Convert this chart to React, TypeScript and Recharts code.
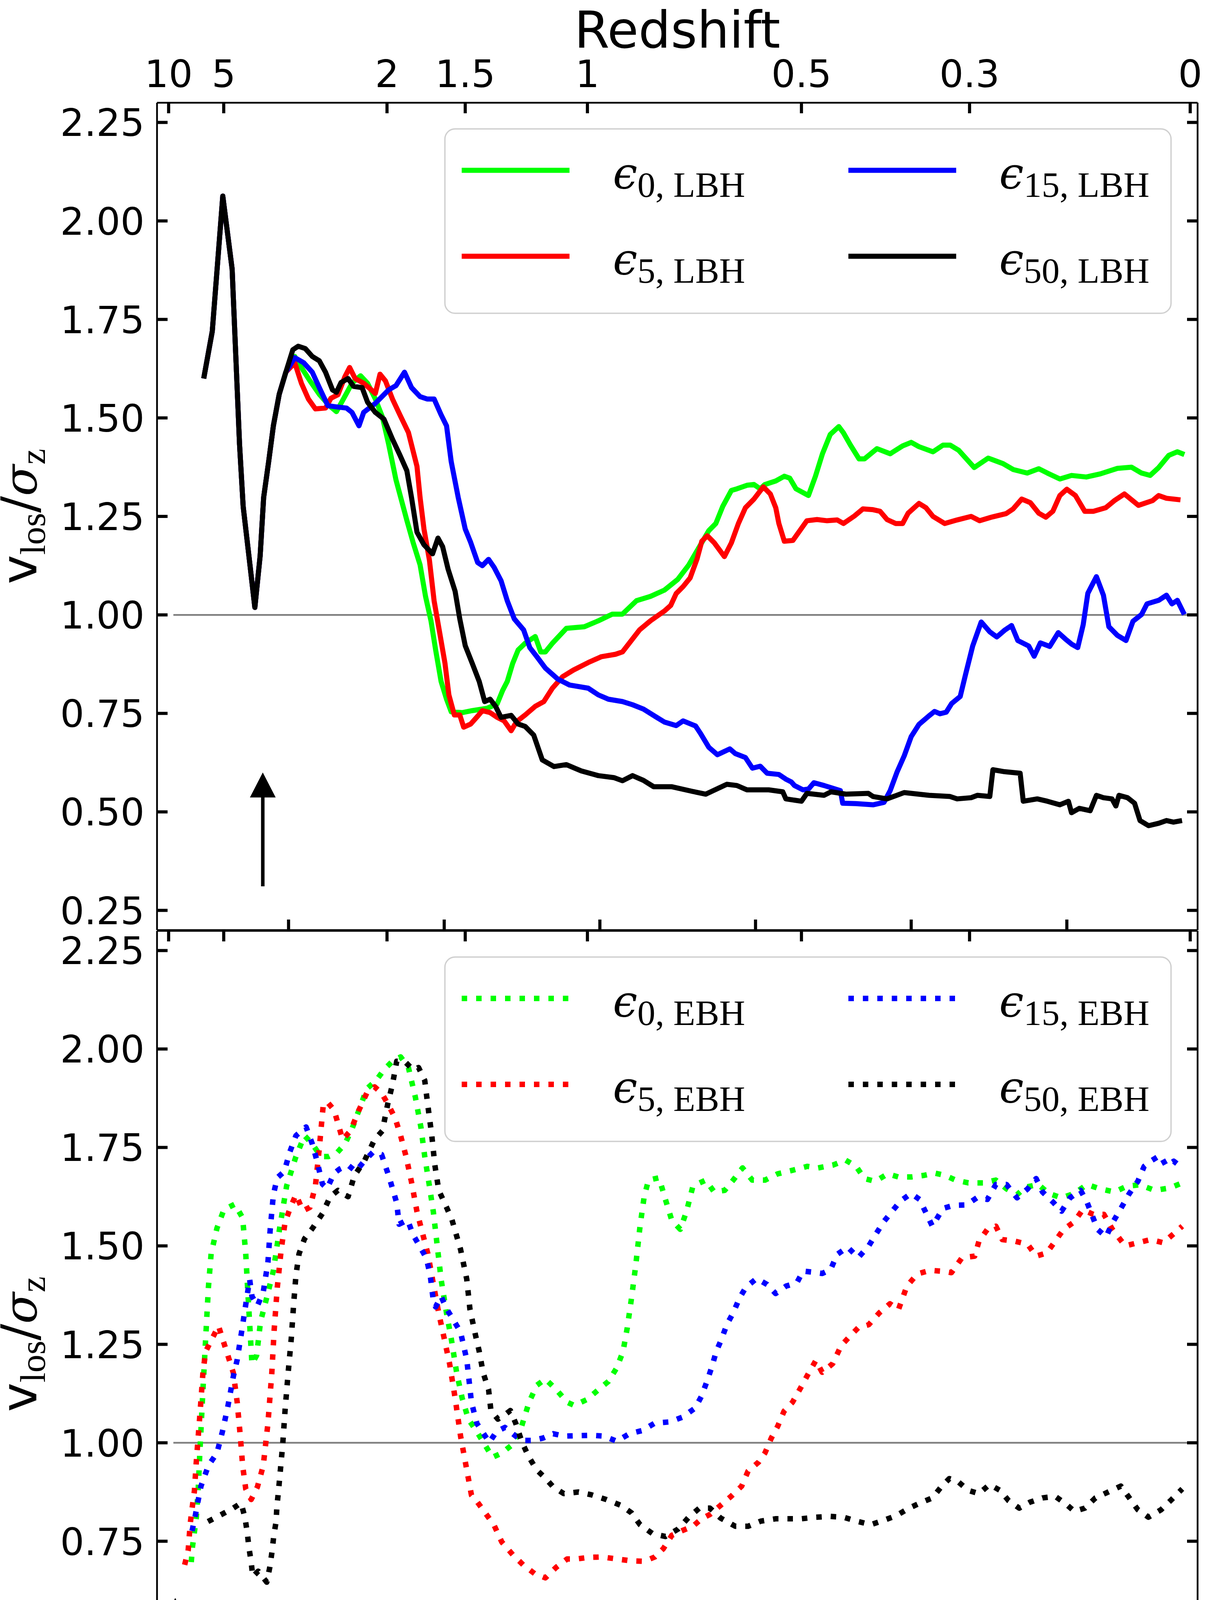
import React from 'react';
import { LineChart, Line, XAxis, YAxis, ReferenceLine, ReferenceDot, Legend } from 'recharts';

// ---------------- data ----------------
const timeTicks = [2, 4, 6, 8, 10, 12];
const yTicks = [0.25, 0.5, 0.75, 1.0, 1.25, 1.5, 1.75, 2.0, 2.25];
const redshiftLabels = ['10', '5', '2', '1.5', '1', '0.5', '0.3', '0'];
const redshiftTimes = [0.459, 1.167, 3.265, 4.27, 5.84, 8.59, 10.75, 13.585];
const xDomain = [0.31, 13.68];
const yDomain = [0.2, 2.3];

// shared early evolution (top panel, before BH seeding)
const earlyLBH = [[0.91,1.60],[1.02,1.72],[1.155,2.063],[1.275,1.878],[1.37,1.434],[1.417,1.275],[1.497,1.139],[1.567,1.019],[1.635,1.15],[1.68,1.298],[1.745,1.39],[1.805,1.48],[1.88,1.56],[1.965,1.616]];

const lbh0 = [[2.08,1.656],[2.165,1.628],[2.275,1.594],[2.395,1.56],[2.525,1.531],[2.615,1.516],[2.705,1.548],[2.815,1.588],[2.925,1.607],[3.015,1.588],[3.115,1.548],[3.205,1.503],[3.285,1.434],[3.38,1.343],[3.52,1.24],[3.60,1.184],[3.69,1.127],[3.76,1.047],[3.83,0.985],[3.89,0.911],[3.96,0.831],[4.03,0.786],[4.09,0.754],[4.23,0.752],[4.36,0.757],[4.55,0.763],[4.68,0.774],[4.75,0.808],[4.81,0.831],[4.88,0.877],[4.95,0.911],[5.04,0.928],[5.13,0.94],[5.17,0.945],[5.24,0.906],[5.30,0.906],[5.39,0.928],[5.57,0.966],[5.80,0.97],[5.98,0.985],[6.16,1.002],[6.29,1.002],[6.47,1.036],[6.65,1.047],[6.83,1.063],[7.00,1.09],[7.14,1.126],[7.27,1.17],[7.40,1.214],[7.49,1.232],[7.58,1.276],[7.69,1.316],[7.76,1.32],[7.89,1.329],[7.98,1.331],[8.06,1.32],[8.12,1.331],[8.26,1.34],[8.37,1.352],[8.44,1.347],[8.52,1.32],[8.68,1.303],[8.77,1.352],[8.86,1.409],[8.96,1.458],[9.07,1.478],[9.13,1.462],[9.22,1.431],[9.33,1.396],[9.40,1.396],[9.56,1.422],[9.73,1.409],[9.89,1.429],[10.00,1.438],[10.10,1.427],[10.28,1.414],[10.41,1.431],[10.50,1.431],[10.61,1.418],[10.81,1.374],[10.99,1.398],[11.18,1.384],[11.31,1.369],[11.49,1.36],[11.64,1.371],[11.75,1.36],[11.91,1.345],[12.06,1.354],[12.25,1.35],[12.43,1.358],[12.65,1.372],[12.83,1.375],[12.96,1.36],[13.07,1.354],[13.18,1.374],[13.31,1.405],[13.42,1.414],[13.51,1.407]];

const lbh5 = [[2.08,1.64],[2.165,1.588],[2.255,1.548],[2.345,1.523],[2.475,1.525],[2.545,1.55],[2.635,1.559],[2.725,1.605],[2.785,1.628],[2.855,1.6],[2.965,1.588],[3.065,1.571],[3.115,1.562],[3.175,1.611],[3.245,1.594],[3.335,1.548],[3.43,1.508],[3.54,1.463],[3.65,1.377],[3.69,1.298],[3.74,1.218],[3.81,1.139],[3.87,1.036],[3.94,0.957],[4.01,0.877],[4.06,0.797],[4.13,0.746],[4.20,0.746],[4.25,0.715],[4.34,0.723],[4.43,0.743],[4.49,0.757],[4.59,0.752],[4.68,0.74],[4.77,0.731],[4.86,0.706],[4.93,0.729],[5.04,0.746],[5.17,0.768],[5.28,0.78],[5.39,0.814],[5.52,0.843],[5.66,0.86],[5.85,0.879],[6.02,0.894],[6.20,0.9],[6.29,0.906],[6.40,0.934],[6.51,0.962],[6.65,0.985],[6.83,1.01],[6.91,1.024],[6.98,1.054],[7.07,1.072],[7.16,1.094],[7.25,1.143],[7.31,1.187],[7.38,1.201],[7.47,1.183],[7.60,1.148],[7.69,1.183],[7.78,1.232],[7.87,1.272],[7.98,1.294],[8.10,1.325],[8.19,1.307],[8.26,1.272],[8.30,1.232],[8.37,1.187],[8.48,1.189],[8.57,1.214],[8.66,1.239],[8.79,1.242],[8.92,1.239],[9.05,1.241],[9.13,1.232],[9.27,1.251],[9.38,1.269],[9.51,1.267],[9.60,1.263],[9.69,1.242],[9.80,1.232],[9.89,1.232],[9.96,1.258],[10.10,1.283],[10.19,1.272],[10.28,1.25],[10.43,1.232],[10.59,1.241],[10.77,1.25],[10.88,1.239],[11.03,1.248],[11.22,1.257],[11.31,1.269],[11.42,1.294],[11.53,1.285],[11.64,1.258],[11.73,1.248],[11.82,1.263],[11.91,1.303],[12.00,1.319],[12.11,1.303],[12.23,1.263],[12.34,1.263],[12.50,1.272],[12.61,1.29],[12.74,1.307],[12.92,1.278],[13.10,1.29],[13.18,1.303],[13.28,1.296],[13.46,1.292]];

const lbh15 = [[2.08,1.653],[2.195,1.64],[2.305,1.616],[2.395,1.577],[2.505,1.531],[2.615,1.528],[2.745,1.525],[2.815,1.514],[2.905,1.48],[2.965,1.514],[3.115,1.537],[3.285,1.571],[3.38,1.582],[3.49,1.616],[3.58,1.577],[3.69,1.554],[3.78,1.548],[3.87,1.548],[3.96,1.508],[4.03,1.48],[4.09,1.389],[4.18,1.298],[4.27,1.218],[4.34,1.184],[4.43,1.133],[4.49,1.125],[4.57,1.141],[4.64,1.121],[4.73,1.087],[4.81,1.036],[4.90,0.99],[5.02,0.962],[5.10,0.917],[5.19,0.894],[5.30,0.865],[5.46,0.837],[5.61,0.822],[5.85,0.814],[5.98,0.797],[6.11,0.786],[6.29,0.78],[6.42,0.772],[6.56,0.761],[6.73,0.74],[6.83,0.728],[6.98,0.719],[7.07,0.731],[7.23,0.718],[7.29,0.70],[7.40,0.664],[7.51,0.645],[7.67,0.66],[7.74,0.648],[7.87,0.638],[7.96,0.611],[8.06,0.616],[8.15,0.598],[8.30,0.595],[8.39,0.583],[8.46,0.576],[8.50,0.567],[8.61,0.556],[8.68,0.558],[8.75,0.574],[8.88,0.567],[9.09,0.554],[9.12,0.522],[9.29,0.521],[9.51,0.518],[9.65,0.524],[9.73,0.554],[9.82,0.602],[9.91,0.642],[10.00,0.691],[10.10,0.722],[10.23,0.744],[10.30,0.755],[10.37,0.749],[10.45,0.753],[10.52,0.775],[10.63,0.793],[10.70,0.85],[10.79,0.921],[10.90,0.982],[11.01,0.957],[11.10,0.944],[11.20,0.961],[11.29,0.973],[11.37,0.935],[11.51,0.921],[11.58,0.895],[11.66,0.929],[11.78,0.92],[11.89,0.955],[11.98,0.939],[12.06,0.926],[12.14,0.917],[12.21,0.975],[12.27,1.055],[12.38,1.097],[12.47,1.05],[12.54,0.97],[12.65,0.948],[12.76,0.935],[12.85,0.984],[12.96,1.001],[13.03,1.028],[13.18,1.037],[13.28,1.05],[13.35,1.028],[13.42,1.037],[13.51,1.001]];

const lbh50 = [[2.055,1.673],[2.125,1.682],[2.215,1.676],[2.305,1.656],[2.395,1.645],[2.475,1.616],[2.565,1.571],[2.615,1.565],[2.675,1.59],[2.765,1.60],[2.835,1.58],[2.945,1.577],[3.015,1.54],[3.115,1.514],[3.225,1.497],[3.335,1.446],[3.43,1.406],[3.52,1.366],[3.58,1.298],[3.65,1.21],[3.74,1.178],[3.85,1.155],[3.92,1.195],[3.98,1.173],[4.05,1.116],[4.14,1.06],[4.20,0.99],[4.27,0.922],[4.36,0.877],[4.45,0.831],[4.52,0.78],[4.59,0.786],[4.66,0.768],[4.73,0.74],[4.86,0.745],[4.95,0.723],[5.04,0.717],[5.15,0.695],[5.26,0.632],[5.41,0.615],[5.57,0.62],[5.76,0.604],[5.98,0.592],[6.18,0.587],[6.29,0.579],[6.42,0.592],[6.56,0.58],[6.69,0.564],[6.92,0.564],[7.19,0.552],[7.36,0.545],[7.63,0.57],[7.76,0.567],[7.89,0.556],[8.17,0.556],[8.35,0.551],[8.39,0.533],[8.59,0.527],[8.66,0.547],[8.88,0.542],[8.97,0.551],[9.16,0.545],[9.45,0.547],[9.51,0.539],[9.69,0.533],[9.91,0.549],[10.23,0.542],[10.50,0.539],[10.59,0.533],[10.77,0.536],[10.85,0.542],[11.01,0.539],[11.05,0.607],[11.20,0.602],[11.40,0.598],[11.44,0.527],[11.62,0.533],[11.75,0.527],[11.91,0.518],[12.02,0.527],[12.06,0.498],[12.16,0.509],[12.30,0.503],[12.38,0.542],[12.47,0.536],[12.58,0.533],[12.63,0.515],[12.67,0.542],[12.78,0.536],[12.87,0.522],[12.94,0.478],[13.05,0.465],[13.18,0.471],[13.28,0.478],[13.37,0.474],[13.48,0.478]];

const ebh0 = [[0.75,0.697],[0.765,0.735],[0.79,0.773],[0.815,0.81],[0.84,0.886],[0.86,0.974],[0.90,1.135],[0.935,1.265],[0.97,1.394],[1.005,1.48],[1.08,1.545],[1.17,1.592],[1.31,1.606],[1.41,1.571],[1.45,1.48],[1.48,1.372],[1.53,1.20],[1.59,1.222],[1.64,1.308],[1.71,1.361],[1.805,1.437],[1.885,1.544],[1.975,1.652],[2.095,1.727],[2.205,1.78],[2.305,1.759],[2.415,1.727],[2.515,1.727],[2.625,1.737],[2.725,1.759],[2.815,1.797],[2.905,1.845],[3.005,1.899],[3.125,1.92],[3.225,1.947],[3.335,1.969],[3.44,1.98],[3.54,1.953],[3.63,1.877],[3.70,1.802],[3.75,1.727],[3.81,1.652],[3.86,1.587],[3.91,1.501],[3.96,1.415],[4.03,1.329],[4.09,1.265],[4.16,1.178],[4.23,1.114],[4.31,1.06],[4.42,1.028],[4.52,0.996],[4.62,0.963],[4.74,0.974],[4.88,0.996],[4.99,1.039],[5.09,1.103],[5.19,1.146],[5.30,1.162],[5.44,1.135],[5.58,1.103],[5.67,1.095],[5.835,1.11],[5.97,1.133],[6.11,1.156],[6.216,1.19],[6.298,1.232],[6.352,1.292],[6.407,1.368],[6.461,1.451],[6.516,1.55],[6.57,1.626],[6.625,1.667],[6.76,1.673],[6.842,1.618],[6.924,1.565],[7.033,1.542],[7.114,1.588],[7.196,1.652],[7.36,1.667],[7.468,1.637],[7.604,1.641],[7.713,1.667],[7.833,1.698],[7.958,1.667],[8.121,1.667],[8.285,1.683],[8.475,1.692],[8.666,1.702],[8.802,1.698],[8.992,1.705],[9.156,1.718],[9.292,1.702],[9.40,1.671],[9.537,1.664],[9.70,1.683],[9.836,1.675],[9.999,1.675],[10.163,1.679],[10.299,1.685],[10.435,1.679],[10.571,1.667],[10.735,1.66],[10.925,1.66],[11.088,1.667],[11.224,1.645],[11.36,1.63],[11.469,1.649],[11.633,1.656],[11.769,1.633],[11.932,1.622],[12.095,1.633],[12.259,1.656],[12.422,1.645],[12.612,1.637],[12.776,1.652],[12.939,1.655],[13.13,1.641],[13.32,1.647],[13.483,1.66]];

const ebh5 = [[0.665,0.69],[0.71,0.726],[0.725,0.765],[0.74,0.80],[0.765,0.84],[0.79,0.877],[0.815,0.953],[0.865,1.082],[0.90,1.178],[0.935,1.232],[1.005,1.259],[1.10,1.297],[1.15,1.265],[1.22,1.222],[1.29,1.178],[1.34,1.103],[1.38,1.017],[1.41,0.942],[1.45,0.883],[1.52,0.856],[1.60,0.888],[1.675,0.942],[1.735,1.049],[1.785,1.178],[1.815,1.286],[1.855,1.394],[1.905,1.49],[1.955,1.56],[2.025,1.598],[2.095,1.63],[2.185,1.589],[2.275,1.598],[2.345,1.652],[2.395,1.748],[2.445,1.856],[2.495,1.866],[2.585,1.845],[2.695,1.77],[2.795,1.792],[2.905,1.845],[3.005,1.888],[3.105,1.904],[3.195,1.888],[3.275,1.861],[3.37,1.824],[3.44,1.78],[3.51,1.727],[3.58,1.662],[3.65,1.587],[3.72,1.533],[3.79,1.48],[3.86,1.404],[3.93,1.329],[4.00,1.265],[4.07,1.2],[4.14,1.114],[4.21,1.017],[4.28,0.942],[4.35,0.867],[4.42,0.851],[4.52,0.824],[4.64,0.791],[4.74,0.748],[4.88,0.716],[5.02,0.689],[5.16,0.668],[5.30,0.657],[5.44,0.684],[5.58,0.705],[5.699,0.705],[5.862,0.709],[6.026,0.71],[6.216,0.705],[6.407,0.70],[6.57,0.699],[6.706,0.71],[6.815,0.731],[6.924,0.765],[7.06,0.777],[7.196,0.788],[7.305,0.807],[7.414,0.818],[7.55,0.841],[7.686,0.864],[7.822,0.89],[7.904,0.928],[8.04,0.951],[8.121,0.974],[8.203,1.012],[8.285,1.042],[8.366,1.08],[8.475,1.103],[8.584,1.141],[8.666,1.171],[8.775,1.209],[8.856,1.179],[8.992,1.201],[9.101,1.247],[9.21,1.27],[9.319,1.292],[9.455,1.30],[9.591,1.33],[9.727,1.353],[9.836,1.338],[9.945,1.398],[10.081,1.429],[10.245,1.438],[10.435,1.435],[10.517,1.432],[10.653,1.47],[10.816,1.474],[10.871,1.512],[10.979,1.542],[11.088,1.55],[11.17,1.516],[11.333,1.512],[11.497,1.504],[11.605,1.474],[11.741,1.482],[11.85,1.512],[11.959,1.542],[12.095,1.561],[12.204,1.592],[12.34,1.58],[12.476,1.58],[12.585,1.542],[12.749,1.50],[12.912,1.508],[13.075,1.516],[13.239,1.508],[13.374,1.531],[13.483,1.55]];

const ebh15 = [[0.76,0.776],[0.80,0.813],[0.835,0.85],[0.875,0.89],[0.97,0.942],[1.08,0.974],[1.15,1.028],[1.22,1.092],[1.29,1.168],[1.34,1.211],[1.40,1.286],[1.45,1.351],[1.50,1.415],[1.53,1.372],[1.60,1.348],[1.675,1.383],[1.735,1.458],[1.765,1.544],[1.805,1.63],[1.855,1.673],[1.945,1.689],[2.015,1.738],[2.095,1.78],[2.225,1.802],[2.305,1.759],[2.365,1.716],[2.435,1.657],[2.495,1.646],[2.585,1.684],[2.655,1.695],[2.765,1.705],[2.865,1.689],[2.975,1.716],[3.085,1.738],[3.195,1.732],[3.295,1.673],[3.39,1.609],[3.42,1.555],[3.53,1.566],[3.60,1.528],[3.68,1.501],[3.77,1.469],[3.82,1.426],[3.86,1.361],[3.89,1.345],[3.96,1.372],[4.03,1.34],[4.10,1.318],[4.21,1.281],[4.29,1.211],[4.35,1.103],[4.42,1.049],[4.49,1.028],[4.58,1.001],[4.67,1.028],[4.78,1.039],[4.88,1.023],[4.99,1.006],[5.13,1.006],[5.27,1.012],[5.40,1.023],[5.54,1.017],[5.699,1.018],[5.89,1.019],[6.053,1.017],[6.216,1.004],[6.38,1.023],[6.543,1.031],[6.706,1.05],[6.897,1.053],[7.06,1.065],[7.223,1.088],[7.305,1.118],[7.376,1.156],[7.441,1.194],[7.495,1.232],[7.561,1.262],[7.631,1.30],[7.713,1.33],[7.795,1.368],[7.877,1.395],[8.013,1.417],[8.149,1.402],[8.258,1.379],[8.394,1.398],[8.53,1.406],[8.611,1.436],[8.748,1.433],[8.856,1.43],[8.965,1.44],[9.047,1.478],[9.183,1.497],[9.319,1.47],[9.455,1.50],[9.537,1.527],[9.646,1.561],[9.755,1.588],[9.863,1.614],[9.999,1.633],[10.108,1.618],[10.19,1.584],[10.272,1.55],[10.408,1.595],[10.544,1.603],[10.707,1.604],[10.843,1.622],[10.979,1.618],[11.088,1.656],[11.224,1.656],[11.36,1.622],[11.497,1.645],[11.605,1.671],[11.687,1.637],[11.823,1.611],[11.932,1.588],[12.041,1.622],[12.177,1.641],[12.259,1.611],[12.395,1.542],[12.504,1.523],[12.585,1.558],[12.694,1.595],[12.803,1.633],[12.912,1.664],[12.994,1.702],[13.075,1.715],[13.20,1.73],[13.277,1.703],[13.374,1.715],[13.483,1.698]];

const ebh50 = [[0.965,0.80],[1.13,0.817],[1.29,0.834],[1.39,0.847],[1.44,0.81],[1.47,0.771],[1.49,0.735],[1.52,0.697],[1.54,0.66],[1.61,0.674],[1.72,0.646],[1.76,0.685],[1.79,0.727],[1.81,0.764],[1.84,0.80],[1.85,0.838],[1.87,0.876],[1.925,0.996],[1.955,1.082],[1.995,1.178],[2.035,1.265],[2.065,1.351],[2.095,1.426],[2.135,1.48],[2.205,1.518],[2.305,1.544],[2.435,1.582],[2.535,1.625],[2.635,1.641],[2.765,1.625],[2.845,1.678],[2.975,1.716],[3.105,1.77],[3.205,1.792],[3.275,1.861],[3.335,1.91],[3.39,1.969],[3.49,1.969],[3.60,1.947],[3.67,1.953],[3.75,1.92],[3.79,1.856],[3.84,1.781],[3.88,1.705],[3.93,1.641],[4.03,1.598],[4.10,1.566],[4.21,1.491],[4.29,1.415],[4.33,1.34],[4.40,1.275],[4.45,1.232],[4.50,1.178],[4.57,1.135],[4.60,1.082],[4.69,1.06],[4.78,1.071],[4.85,1.082],[4.92,1.049],[5.00,1.001],[5.09,0.963],[5.19,0.931],[5.30,0.91],[5.40,0.888],[5.536,0.871],[5.726,0.875],[5.89,0.868],[6.08,0.856],[6.27,0.841],[6.407,0.822],[6.516,0.792],[6.679,0.769],[6.842,0.762],[7.006,0.781],[7.142,0.811],[7.278,0.834],[7.414,0.834],[7.55,0.809],[7.74,0.788],[7.904,0.788],[8.067,0.801],[8.258,0.807],[8.421,0.807],[8.584,0.807],[8.775,0.811],[8.965,0.813],[9.129,0.811],[9.319,0.80],[9.482,0.792],[9.646,0.803],[9.809,0.815],[9.972,0.834],[10.136,0.849],[10.272,0.86],[10.381,0.887],[10.49,0.909],[10.598,0.902],[10.735,0.879],[10.871,0.871],[11.007,0.894],[11.143,0.879],[11.252,0.853],[11.388,0.834],[11.524,0.849],[11.687,0.86],[11.85,0.864],[11.986,0.845],[12.095,0.826],[12.231,0.834],[12.368,0.86],[12.531,0.875],[12.694,0.89],[12.803,0.86],[12.912,0.83],[13.048,0.811],[13.211,0.83],[13.347,0.856],[13.483,0.883]];

// marker arrows (time of BH seeding) and the unity reference
const arrowTop = { t: 1.669, from: 0.311, to: 0.60 };
const arrowBottom = { t: 0.544, from: 0.314, to: 0.606 };
const unityLine = { y: 1.0, from: 0.52, to: 13.68 };

// ---------------- helpers / styling ----------------
const toPts = (arr: number[][]) => arr.map(([t, v]) => ({ t, v }));

type Series = { n: string; color: string; data: { t: number; v: number }[] };
const lbhSeries: Series[] = [
  { n: '0', color: '#00ff00', data: toPts([...earlyLBH, ...lbh0]) },
  { n: '5', color: '#ff0000', data: toPts([...earlyLBH, ...lbh5]) },
  { n: '15', color: '#0000ff', data: toPts([...earlyLBH, ...lbh15]) },
  { n: '50', color: '#000000', data: toPts([...earlyLBH, ...lbh50]) },
];
const ebhSeries: Series[] = [
  { n: '0', color: '#00ff00', data: toPts(ebh0) },
  { n: '5', color: '#ff0000', data: toPts(ebh5) },
  { n: '15', color: '#0000ff', data: toPts(ebh15) },
  { n: '50', color: '#000000', data: toPts(ebh50) },
];

const SANS = "'DejaVu Sans', sans-serif";
const SERIF = "'Liberation Serif', 'DejaVu Serif', serif";
const TICK_LEN = 27;
const TICK_W = 8;
const SPINE = { stroke: '#000', strokeWidth: 4.5 };
const TICK_FS = 97;
const LABEL_FS = 130;
const SOLID_W = 13;
const DOT_W = 14;
const DOT_DASH = '14 23';

const leftTick = (p: any) => (
  <g>
    <line x1={p.x} y1={p.y} x2={p.x + TICK_LEN} y2={p.y} stroke="#000" strokeWidth={TICK_W} />
    <text x={p.x - 32} y={p.y + 35} textAnchor="end" fontFamily={SANS} fontSize={TICK_FS} fill="#000">
      {Number(p.payload.value).toFixed(2)}
    </text>
  </g>
);
const rightTick = (p: any) => (
  <line x1={p.x} y1={p.y} x2={p.x - TICK_LEN} y2={p.y} stroke="#000" strokeWidth={TICK_W} />
);
const bottomTick = (withLabel: boolean) => (p: any) => (
  <g>
    <line x1={p.x} y1={p.y} x2={p.x} y2={p.y - TICK_LEN} stroke="#000" strokeWidth={TICK_W} />
    {withLabel && (
      <text x={p.x} y={p.y + 94} textAnchor="middle" fontFamily={SANS} fontSize={TICK_FS} fill="#000">
        {String(p.payload.value)}
      </text>
    )}
  </g>
);
const topTick = (withLabel: boolean) => (p: any) => {
  const idx = redshiftTimes.indexOf(p.payload.value);
  return (
    <g>
      <line x1={p.x} y1={p.y} x2={p.x} y2={p.y + TICK_LEN} stroke="#000" strokeWidth={TICK_W} />
      {withLabel && (
        <text x={p.x} y={p.y - 40} textAnchor="middle" fontFamily={SANS} fontSize={TICK_FS} fill="#000">
          {redshiftLabels[idx]}
        </text>
      )}
    </g>
  );
};

const yLabel = (cy: number) => () => (
  <g transform={`translate(93 ${cy}) rotate(-90)`}>
    <text x={0} y={0} textAnchor="middle" fill="#000">
      <tspan fontFamily={SANS} fontSize={127}>v</tspan>
      <tspan fontFamily={SERIF} fontSize={92} dy={22}>los</tspan>
      <tspan fontFamily={SANS} fontSize={127} dy={-22}>/</tspan>
      <tspan fontFamily="'DejaVu Serif', serif" fontStyle="italic" fontSize={118}>σ</tspan>
      <tspan fontFamily={SERIF} fontSize={92} dy={22}>z</tspan>
    </text>
  </g>
);

const LegendBox = ({ series, kind, dotted }: { series: Series[]; kind: string; dotted: boolean }) => {
  const W = 1863, H = 476;
  const cols = [45, 1035];
  const textX = [432, 1421];
  const rows = [108, 328];
  return (
    <svg width={W} height={H} style={{ display: 'block' }}>
      <rect x={2} y={2} width={W - 4} height={H - 4} rx={26} ry={26} fill="#fff" fillOpacity={0.8} stroke="#d0d0d0" strokeWidth={3.5} />
      {series.map((s, i) => {
        const c = Math.floor(i / 2);
        const r = i % 2;
        const y = rows[r];
        return (
          <g key={s.n}>
            <line x1={cols[c]} y1={y} x2={cols[c] + 276} y2={y} stroke={s.color}
              strokeWidth={dotted ? DOT_W : SOLID_W} strokeDasharray={dotted ? DOT_DASH : undefined} />
            <text x={textX[c]} y={y + 46} fill="#000">
              <tspan fontFamily="'DejaVu Serif', serif" fontStyle="italic" fontSize={112}>ϵ</tspan>
              <tspan fontFamily={SERIF} fontSize={92} dy={22}>{`${s.n}, ${kind}`}</tspan>
            </text>
          </g>
        );
      })}
    </svg>
  );
};

const arrowHead = (p: any) => (
  <polygon points={`${p.cx},${p.cy} ${p.cx - 33},${p.cy + 64} ${p.cx + 33},${p.cy + 64}`} fill="#000" />
);

function Panel({ series, kind, dotted, top, height, margin, topAxisH, bottomAxisH, showTime, showRedshift, legendTop, yCenter, arrow }: any) {
  return (
    <div style={{ position: 'absolute', left: 0, top, width: 3108, height }}>
      <LineChart width={3108} height={height} margin={margin}>
        <XAxis xAxisId="t" dataKey="t" type="number" domain={xDomain} allowDataOverflow ticks={timeTicks}
          orientation="bottom" height={bottomAxisH} axisLine={SPINE} tickLine={false} tickSize={0} tickMargin={0}
          interval={0} tick={bottomTick(showTime)}
          label={showTime ? { content: () => (
            <text x={1734} y={4737 - top} textAnchor="middle" fontFamily={SANS} fontSize={LABEL_FS} fill="#000">Time [Gyr]</text>
          ) } : undefined} />
        <XAxis xAxisId="z" dataKey="t" type="number" domain={xDomain} allowDataOverflow ticks={redshiftTimes}
          orientation="top" height={topAxisH} axisLine={SPINE} tickLine={false} tickSize={0} tickMargin={0}
          interval={0} tick={topTick(showRedshift)}
          label={showRedshift ? { content: () => (
            <text x={1734} y={122 - top} textAnchor="middle" fontFamily={SANS} fontSize={LABEL_FS} fill="#000">Redshift</text>
          ) } : undefined} />
        <YAxis yAxisId="l" type="number" domain={yDomain} allowDataOverflow ticks={yTicks} orientation="left"
          width={402} axisLine={SPINE} tickLine={false} tickSize={0} tickMargin={0} interval={0} tick={leftTick}
          label={{ content: yLabel(yCenter - top) }} />
        <YAxis yAxisId="r" type="number" domain={yDomain} allowDataOverflow ticks={yTicks} orientation="right"
          width={2} axisLine={SPINE} tickLine={false} tickSize={0} tickMargin={0} interval={0} tick={rightTick} />
        <ReferenceLine xAxisId="t" yAxisId="l" segment={[{ x: unityLine.from, y: unityLine.y }, { x: unityLine.to, y: unityLine.y }]}
          stroke="#808080" strokeWidth={4.5} ifOverflow="visible" />
        {series.map((s: Series) => (
          <Line key={s.n} xAxisId="t" yAxisId="l" data={s.data} dataKey="v" type="linear" stroke={s.color}
            strokeWidth={dotted ? DOT_W : SOLID_W} strokeDasharray={dotted ? DOT_DASH : undefined}
            strokeLinejoin="round" dot={false} activeDot={false} isAnimationActive={false} />
        ))}
        <ReferenceLine xAxisId="t" yAxisId="l" segment={[{ x: arrow.t, y: arrow.from }, { x: arrow.t, y: arrow.to - 0.062 }]}
          stroke="#000" strokeWidth={9} ifOverflow="visible" />
        <ReferenceDot xAxisId="t" yAxisId="l" x={arrow.t} y={arrow.to} r={1} shape={arrowHead} ifOverflow="visible" />
        <Legend layout="horizontal" verticalAlign="middle" align="center"
          wrapperStyle={{ position: 'absolute', left: 1137, top: legendTop - top, width: 1863, height: 476 }}
          content={() => <LegendBox series={series} kind={kind} dotted={dotted} />} />
      </LineChart>
    </div>
  );
}

export default function App() {
  return (
    <div style={{ position: 'absolute', left: 0, top: 0, width: 3108, height: 4788, background: '#fff', overflow: 'hidden' }}>
      <Panel series={lbhSeries} kind="LBH" dotted={false} top={0} height={2400}
        margin={{ top: 0, right: 40, bottom: 0, left: 0 }} topAxisH={263} bottomAxisH={19}
        showTime={false} showRedshift={true} legendTop={328} yCenter={1322} arrow={arrowTop} />
      <Panel series={ebhSeries} kind="EBH" dotted={true} top={2370} height={2418}
        margin={{ top: 0, right: 40, bottom: 0, left: 0 }} topAxisH={13} bottomAxisH={288}
        showTime={true} showRedshift={false} legendTop={2448} yCenter={3441} arrow={arrowBottom} />
    </div>
  );
}
